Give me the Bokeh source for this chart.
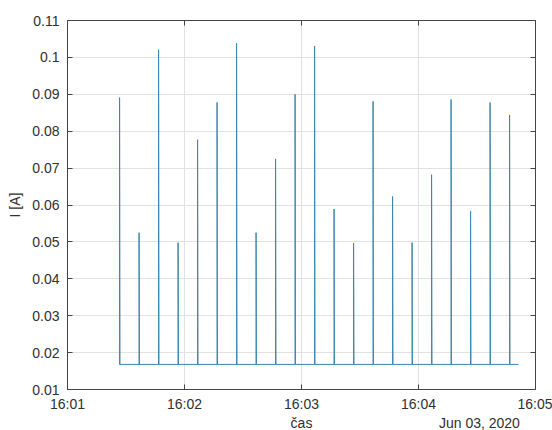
import pandas as pd
from bokeh.plotting import figure
from bokeh.layouts import column
from bokeh.core.properties import value
from bokeh.models import (Range1d, FixedTicker, DatetimeTickFormatter, NumeralTickFormatter,
                          CustomJSTickFormatter, LinearAxis, DatetimeAxis, ColumnDataSource)
from bokeh.embed import file_html
from bokeh.resources import INLINE

DAY = "2020-06-03"

# Current pulses: clock time of each spike and its peak value [A]
spike_times = ["16:01:26.7", "16:01:36.7", "16:01:46.7", "16:01:56.7", "16:02:06.7",
               "16:02:16.7", "16:02:26.7", "16:02:36.7", "16:02:46.7", "16:02:56.7",
               "16:03:06.7", "16:03:16.7", "16:03:26.7", "16:03:36.7", "16:03:46.7",
               "16:03:56.7", "16:04:06.7", "16:04:16.7", "16:04:26.7", "16:04:36.7",
               "16:04:46.7"]
spike_peaks = [0.0891, 0.0525, 0.1021, 0.0498, 0.0777, 0.0878, 0.1039, 0.0525, 0.0725,
               0.0900, 0.1031, 0.0589, 0.0497, 0.0881, 0.0623, 0.0498, 0.0682, 0.0886,
               0.0583, 0.0878, 0.0844]
idle_current = 0.0168
record_start = "16:01:26.5"
record_end = "16:04:51.3"

x_tick_labels = ["16:01", "16:02", "16:03", "16:04", "16:05"]
y_ticks = [0.01, 0.02, 0.03, 0.04, 0.05, 0.06, 0.07, 0.08, 0.09, 0.10, 0.11]

# Texts under the time axis: axis caption and the date of the record
caption_texts = ["čas", "Jun 03, 2020"]
caption_anchor = ["16:03:00", "16:04:52"]
caption_align = ["center", "right"]


def ms(clock):
    return pd.Timestamp(f"{DAY} {clock}").value / 1e6


# Build the sampled trace: idle level with one-sample pulses
xs = [ms(record_start)]
ys = [idle_current]
for t, peak in zip(spike_times, spike_peaks):
    xs += [ms(t), ms(t), ms(t) + 200]
    ys += [idle_current, peak, idle_current]
xs.append(ms(record_end))
ys.append(idle_current)
src = ColumnDataSource(dict(t=xs, i=ys))

FONT = "Liberation Sans"
TXT = "#303030"
AXC = "#454545"
GRID = "#e2e2e2"

x_ticker = FixedTicker(ticks=[ms(s) for s in x_tick_labels])
y_ticker = FixedTicker(ticks=y_ticks)
x_range = Range1d(ms(x_tick_labels[0]), ms(x_tick_labels[-1]))

p = figure(width=552, height=414, x_axis_type="datetime",
           x_range=x_range, y_range=Range1d(y_ticks[0], y_ticks[-1]),
           output_backend="svg", toolbar_location=None,
           min_border_left=67, min_border_right=17, min_border_top=20, min_border_bottom=25)
p.background_fill_color = "white"
p.border_fill_color = "white"
p.outline_line_color = AXC

p.line("t", "i", source=src, line_color="#3b86ad", line_width=1, line_join="bevel")

fmt = DatetimeTickFormatter(seconds="%H:%M", minsec="%H:%M", minutes="%H:%M",
                            hourmin="%H:%M", hours="%H:%M")
blank = CustomJSTickFormatter(code="return ''")


def style(ax):
    ax.major_tick_in = 5
    ax.major_tick_out = 0
    ax.minor_tick_line_color = None
    ax.axis_line_color = AXC
    ax.major_tick_line_color = AXC
    ax.major_label_text_font = FONT
    ax.major_label_text_color = TXT
    ax.major_label_text_font_size = "14px"


xa = p.xaxis[0]
xa.ticker = x_ticker
xa.formatter = fmt
style(xa)
xa.major_label_standoff = 6

ya = p.yaxis[0]
ya.ticker = y_ticker
ya.formatter = NumeralTickFormatter(format="0.[00]")
style(ya)
ya.major_label_standoff = 8
ya.axis_label = "I [A]"
ya.axis_label_text_font = FONT
ya.axis_label_text_font_style = "normal"
ya.axis_label_text_font_size = "14px"
ya.axis_label_text_color = TXT
ya.axis_label_standoff = 6

# Box-style frame: tick marks also on the top and right edges
top = DatetimeAxis(ticker=x_ticker, formatter=blank)
style(top)
top.major_label_standoff = 0
p.add_layout(top, "above")
right = LinearAxis(ticker=y_ticker, formatter=blank)
style(right)
right.major_label_standoff = 0
p.add_layout(right, "right")

p.xgrid.ticker = x_ticker
p.ygrid.ticker = y_ticker
p.xgrid.grid_line_color = GRID
p.ygrid.grid_line_color = GRID

# Strip under the chart carrying the caption texts on the shared time scale
cap = figure(width=552, height=16, x_range=x_range, y_range=Range1d(0, 1),
             output_backend="svg", toolbar_location=None,
             min_border_left=67, min_border_right=17, min_border_top=0, min_border_bottom=0)
cap.title.visible = False
cap.axis.visible = False
cap.grid.visible = False
cap.outline_line_color = None
cap.border_fill_color = "white"
cap_src = ColumnDataSource(dict(x=[ms(t) for t in caption_anchor], y=[1.0, 1.0],
                                text=caption_texts, align=caption_align))
cap.text("x", "y", text="text", text_align="align", source=cap_src,
         text_baseline="top", text_font=value(FONT), text_font_size="14px",
         text_color=TXT)

open("out.html", "w").write(file_html(column(p, cap, spacing=0), INLINE))
